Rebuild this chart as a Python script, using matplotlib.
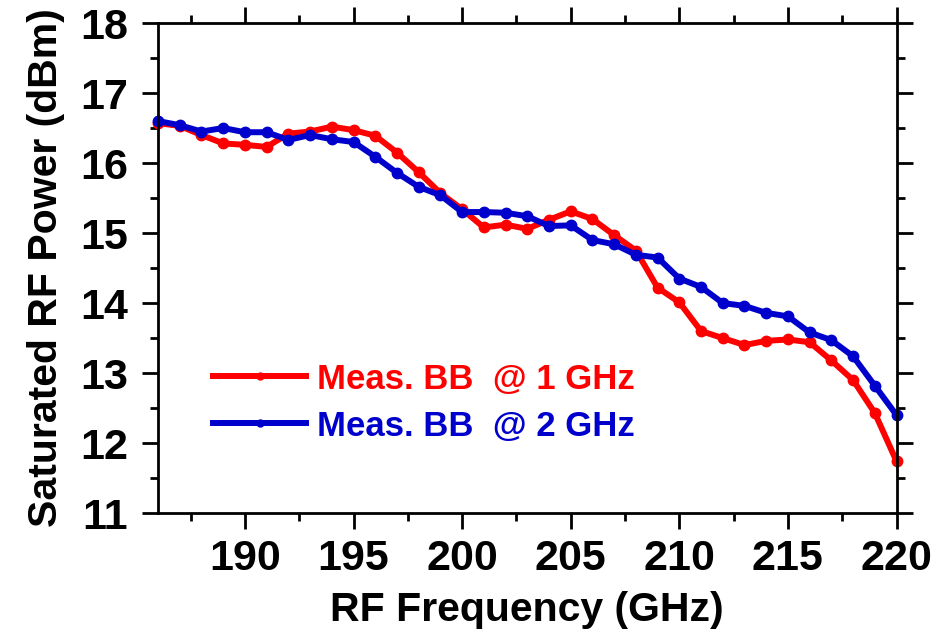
import numpy as np
import matplotlib
matplotlib.use("Agg")
import matplotlib.pyplot as plt
from matplotlib.ticker import MultipleLocator

plt.rcParams['font.family'] = ['Liberation Sans', 'DejaVu Sans']
plt.rcParams['font.weight'] = 'bold'

freq = np.arange(186, 221)

# saturated RF power, dBm
p_1ghz = [16.57, 16.53, 16.40, 16.28, 16.26, 16.23, 16.42, 16.45, 16.52, 16.47,
          16.39, 16.15, 15.87, 15.57, 15.34, 15.08, 15.12, 15.06, 15.19, 15.31,
          15.20, 14.97, 14.75, 14.22, 14.01, 13.60, 13.50, 13.40, 13.46, 13.48,
          13.44, 13.18, 12.90, 12.43, 11.74]
p_2ghz = [16.60, 16.54, 16.45, 16.50, 16.44, 16.44, 16.33, 16.40, 16.34, 16.30,
          16.09, 15.86, 15.66, 15.54, 15.30, 15.30, 15.29, 15.24, 15.10, 15.11,
          14.90, 14.84, 14.69, 14.65, 14.35, 14.23, 14.00, 13.96, 13.86, 13.81,
          13.58, 13.47, 13.24, 12.82, 12.40]

labels = ["Meas. BB  @ 1 GHz", "Meas. BB  @ 2 GHz"]
colors = ["#ff0000", "#0000cc"]

fig = plt.figure(figsize=(9.48, 6.39), dpi=100)
ax = fig.add_axes([0.1667, 0.197, 0.779, 0.767])

ax.plot(freq, p_1ghz, '-o', color=colors[0], lw=4.3, ms=7.5, label=labels[0], clip_on=False)
ax.plot(freq, p_2ghz, '-o', color=colors[1], lw=4.3, ms=7.5, label=labels[1], clip_on=False)

ax.set_xlim(186, 220)
ax.set_ylim(11, 18)
ax.xaxis.set_major_locator(MultipleLocator(5))
ax.xaxis.set_minor_locator(MultipleLocator(2.5))
ax.yaxis.set_major_locator(MultipleLocator(1))
ax.yaxis.set_minor_locator(MultipleLocator(0.5))

for s in ax.spines.values():
    s.set_linewidth(2)
ax.tick_params(which='both', direction='out', top=True, right=True, width=2)
ax.tick_params(which='major', length=11.5, labelsize=31)
ax.tick_params(which='minor', length=6)
ax.tick_params(axis='x', which='major', pad=7)
ax.tick_params(axis='y', which='major', pad=10)

ax.set_xlabel("RF Frequency (GHz)", fontsize=29.5, fontweight='bold', labelpad=9)
ax.set_ylabel("Saturated RF Power (dBm)", fontsize=29.5, fontweight='bold', labelpad=11)

leg = ax.legend(loc='center left', bbox_to_anchor=(0.074, 0.2255), frameon=False,
                fontsize=25, handlelength=2.7, handletextpad=0.3, labelspacing=0.4,
                borderpad=0, borderaxespad=0, labelcolor='linecolor')
for h in leg.legend_handles:
    h.set_markersize(5)

fig.savefig("out.png", dpi=100)
